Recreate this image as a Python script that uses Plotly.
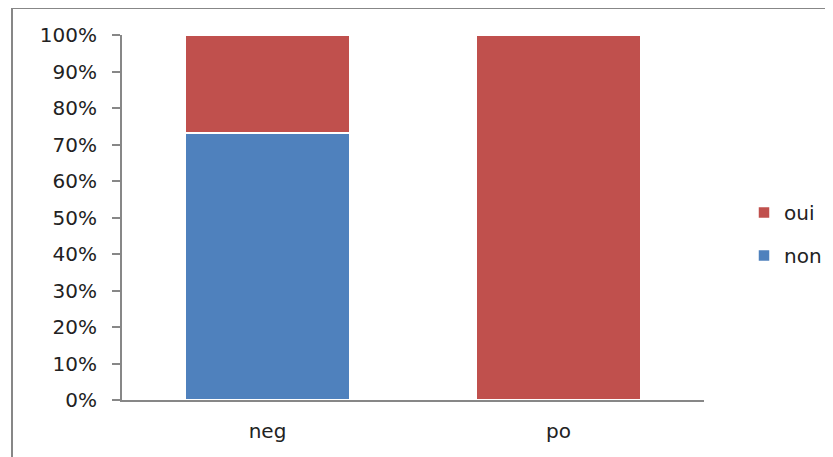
import plotly.graph_objects as go

categories = ["neg", "po"]
non_values = [73.2, 0.0]
oui_values = [26.8, 100.0]
tick_vals = [0, 10, 20, 30, 40, 50, 60, 70, 80, 90, 100]
tick_text = [f"{v}%" for v in tick_vals]

BLUE = "#4F81BD"
RED = "#C0504D"
GRAY = "#878787"
FONT = "DejaVu Sans"

fig = go.Figure()
fig.add_trace(go.Bar(x=categories, y=non_values, name="non", marker_color=BLUE,
                     marker_line=dict(color="white", width=1.5),
                     legendgroup="b", legendrank=2))
fig.add_trace(go.Bar(x=categories, y=oui_values, name="oui", marker_color=RED,
                     marker_line=dict(color="white", width=1.5),
                     legendgroup="a", legendrank=1))

W, H = 833, 457
OFF = 8  # page body offset
# target screen coords of plot area: x 122..704, y 35..400
L = 122 - OFF
T = 35 - OFF
R = W - (704 - OFF)
B = H - (400 - OFF)
pw, ph = W - L - R, H - T - B

def px_x(x):
    return (x - OFF - L) / pw

def px_y(y):
    return (H - B - (y - OFF)) / ph

fig.update_layout(
    width=W, height=H,
    margin=dict(l=L, r=R, t=T, b=B),
    barmode="stack",
    bargap=0.435,
    plot_bgcolor="white",
    paper_bgcolor="white",
    font=dict(family=FONT, size=20, color="#222222"),
    showlegend=True,
    legend=dict(x=px_x(744), y=px_y(234), xanchor="left", yanchor="middle",
                traceorder="grouped", tracegroupgap=14,
                font=dict(family=FONT, size=20, color="#222222"),
                itemwidth=30),
    xaxis=dict(showline=True, linecolor=GRAY, linewidth=2, ticks="",
               showgrid=False, zeroline=False, tickfont=dict(size=20),
               ticklabelstandoff=12),
    yaxis=dict(range=[0, 100], tickvals=tick_vals, ticktext=tick_text,
               showline=True, linecolor=GRAY, linewidth=2, ticks="outside",
               ticklen=8, tickwidth=2, tickcolor=GRAY, showgrid=False,
               zeroline=False, tickfont=dict(size=20), ticklabelstandoff=11),
    shapes=[
        dict(type="line", xref="paper", yref="paper",
             x0=px_x(12), x1=px_x(12), y0=px_y(470), y1=px_y(8),
             line=dict(color=GRAY, width=2)),
        dict(type="line", xref="paper", yref="paper",
             x0=px_x(12), x1=px_x(850), y0=px_y(8), y1=px_y(8),
             line=dict(color=GRAY, width=2)),
    ],
)

fig.write_html("out.html")
